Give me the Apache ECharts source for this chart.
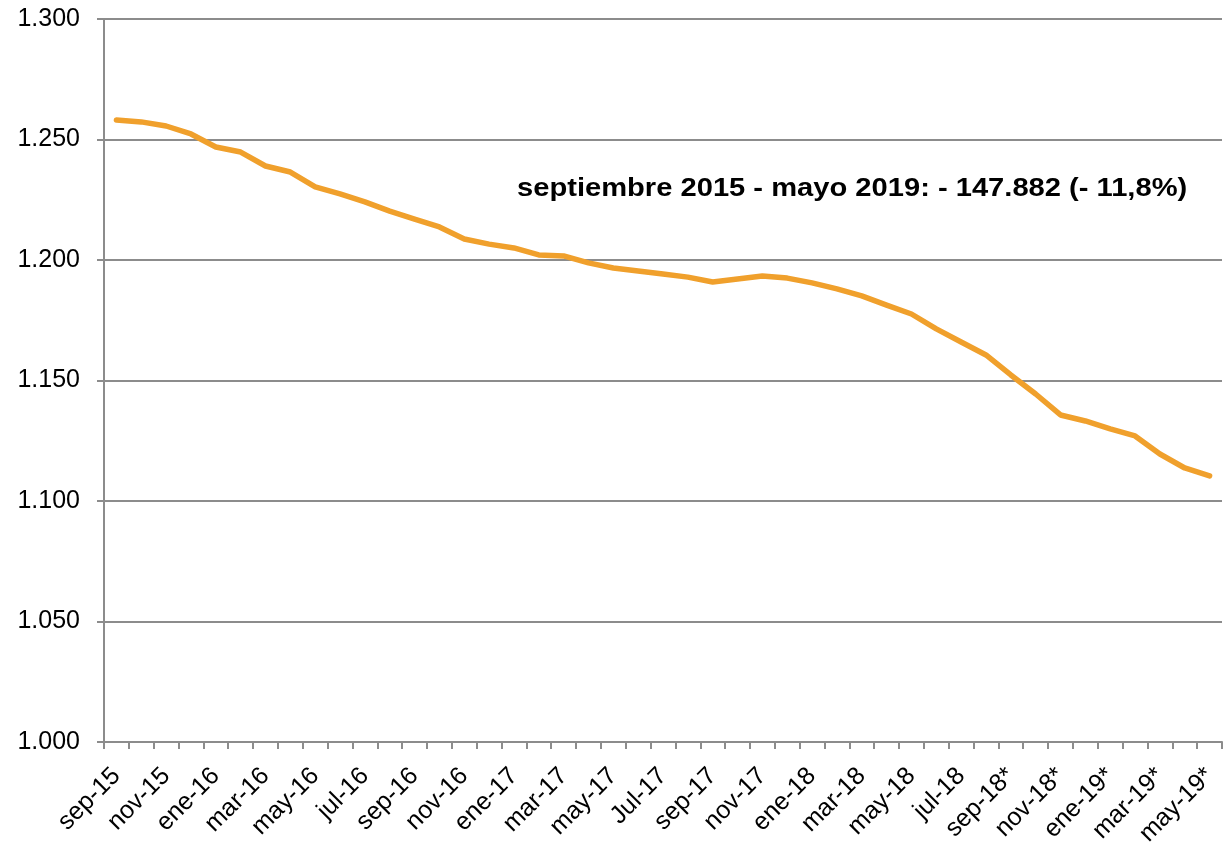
<!doctype html>
<html lang="es">
<head>
    <meta charset="utf-8">
    <title>Afiliados</title>
    <script src="https://cdn.jsdelivr.net/npm/echarts@6.0.0/dist/echarts.min.js"></script>
    <style>
        html, body { margin: 0; padding: 0; background: #fff; }
        #main { width: 1227px; height: 844px; }
    </style>
</head>
<body>
    <div id="main"></div>
    <script type="text/javascript">
    // meses sep-15 .. may-19 (* = provisional)
    var months = [
        'sep-15', 'oct-15', 'nov-15', 'dic-15', 'ene-16', 'feb-16', 'mar-16', 'abr-16',
        'may-16', 'jun-16', 'jul-16', 'ago-16', 'sep-16', 'oct-16', 'nov-16', 'dic-16',
        'ene-17', 'feb-17', 'mar-17', 'abr-17', 'may-17', 'jun-17', 'Jul-17', 'ago-17',
        'sep-17', 'oct-17', 'nov-17', 'dic-17', 'ene-18', 'feb-18', 'mar-18', 'abr-18',
        'may-18', 'jun-18', 'jul-18', 'ago-18', 'sep-18*', 'oct-18*', 'nov-18*', 'dic-18*',
        'ene-19*', 'feb-19*', 'mar-19*', 'abr-19*', 'may-19*'
    ];
    var values = [
        1.2581, 1.2573, 1.2556, 1.2523, 1.2469, 1.2448, 1.2390, 1.2365,
        1.2303, 1.2274, 1.2241, 1.2203, 1.2170, 1.2137, 1.2087, 1.2066,
        1.2050, 1.2021, 1.2017, 1.1988, 1.1967, 1.1954, 1.1942, 1.1929,
        1.1909, 1.1921, 1.1934, 1.1925, 1.1905, 1.1880, 1.1851, 1.1813,
        1.1776, 1.1714, 1.1660, 1.1606, 1.1523, 1.1444, 1.1357, 1.1332,
        1.1299, 1.1270, 1.1195, 1.1137, 1.1104
    ];
    var note = 'septiembre 2015 - mayo 2019: - 147.882 (- 11,8%)';

    var font = '"Liberation Sans", Arial, sans-serif';
    var myChart = echarts.init(document.getElementById('main'));
    var option = {
        animation: false,
        grid: {
            left: 104, right: 5, top: 19, bottom: 102,
            containLabel: false,
            outerBoundsMode: 'none'
        },
        xAxis: {
            type: 'category',
            data: months,
            boundaryGap: true,
            axisLine: { lineStyle: { color: '#8c8c8c', width: 2 } },
            axisTick: { show: true, interval: 0, length: 7, lineStyle: { color: '#8c8c8c', width: 2 } },
            axisLabel: {
                interval: 1,
                rotate: 45,
                margin: 30,
                color: '#000',
                fontSize: 25,
                fontFamily: font
            },
            splitLine: { show: false }
        },
        yAxis: {
            type: 'value',
            min: 1.0,
            max: 1.3,
            interval: 0.05,
            axisLine: { show: true, lineStyle: { color: '#8c8c8c', width: 2 } },
            axisTick: { show: true, length: 7, lineStyle: { color: '#8c8c8c', width: 2 } },
            axisLabel: {
                margin: 24,
                color: '#000',
                fontSize: 25,
                fontFamily: font,
                formatter: function (v) { return v.toFixed(3); }
            },
            splitLine: { lineStyle: { color: '#8c8c8c', width: 2 } }
        },
        graphic: [{
            type: 'text',
            x: 517,
            y: 189,
            scaleX: 1.165,
            style: {
                text: note,
                x: 0,
                y: 0,
                align: 'left',
                verticalAlign: 'middle',
                fill: '#000',
                font: 'bold 25px ' + font
            }
        }],
        series: [{
            type: 'line',
            data: values,
            showSymbol: false,
            smooth: false,
            lineStyle: { color: '#F0A02C', width: 5.5, cap: 'round', join: 'round' },
            itemStyle: { color: '#F0A02C' }
        }]
    };
    myChart.setOption(option);
    </script>
</body>
</html>
